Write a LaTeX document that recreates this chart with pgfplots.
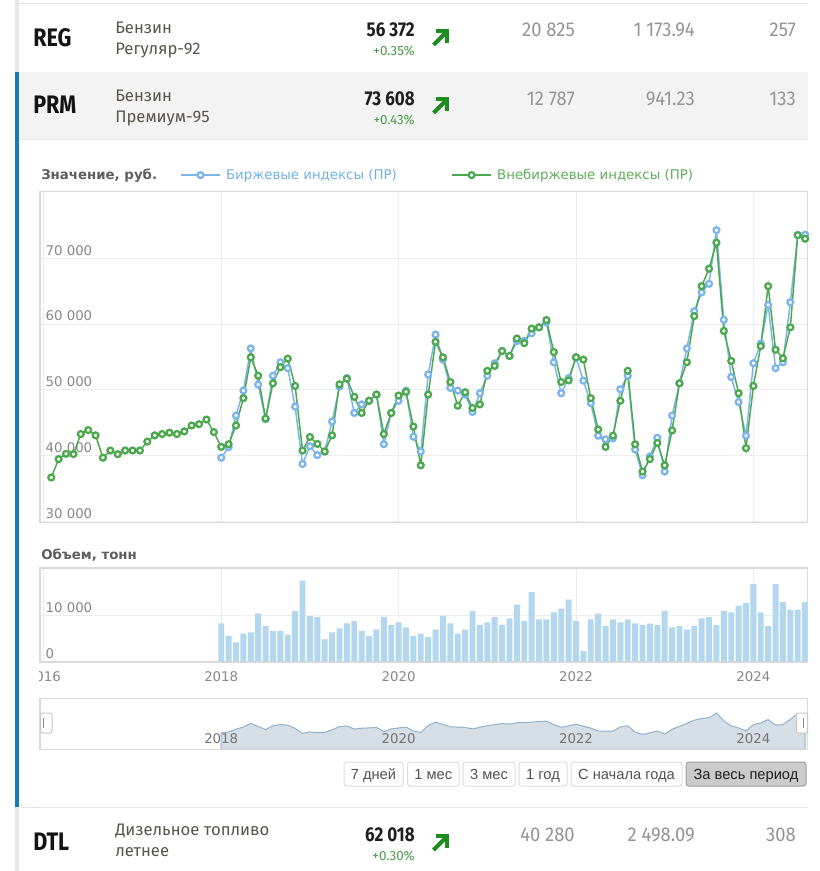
\documentclass[border=0pt]{standalone}
\usepackage{pgfplots}
\pgfplotsset{compat=1.18}
\usepackage{pgfplotstable}
\usepackage{fontspec}
\setmainfont{DejaVu Sans}
\newfontfamily\fira{Fira Sans}
\newfontfamily\firac[FakeStretch=0.85]{Fira Sans}
\newfontfamily\firan[FakeStretch=0.92]{Fira Sans}
\newfontfamily\arial{Liberation Sans}

\definecolor{hcblue}{HTML}{7CB5EC}
\definecolor{hcgreen}{HTML}{4CA84C}
\definecolor{legblue}{HTML}{6FB2E6}
\definecolor{leggreen}{HTML}{5BB058}
\definecolor{barblue}{HTML}{B3D7EF}
\definecolor{gridc}{HTML}{EDEDED}
\definecolor{framec}{HTML}{DADADA}
\definecolor{labc}{HTML}{888888}
\definecolor{titc}{HTML}{5E5E5E}
\definecolor{navfill}{HTML}{D6DEE6}
\definecolor{navline}{HTML}{94B1CB}
\definecolor{rowgrey}{HTML}{F3F3F3}
\definecolor{stripgrey}{HTML}{E8E8E8}
\definecolor{linec}{HTML}{E6E6E6}
\definecolor{accent}{HTML}{1879B8}
\definecolor{upgreen}{HTML}{1E8C1E}
\definecolor{pctgreen}{HTML}{4A9E4A}
\definecolor{namegrey}{HTML}{585550}
\definecolor{numgrey}{HTML}{959595}
\definecolor{btnborder}{HTML}{DDDDDD}
\definecolor{btnsel}{HTML}{CBCBCB}
\definecolor{btnselb}{HTML}{A0A0A0}

% Green series: month index (0 = Jan 2016), value
\pgfplotstableread{
m g
1 36700
2 39500
3 40300
4 40250
5 43300
6 43900
7 43100
8 39700
9 40800
10 40250
11 40800
12 40800
13 40800
14 42150
15 43100
16 43300
17 43500
18 43300
19 43700
20 44600
21 44800
22 45500
23 43600
24 41350
25 41750
26 44600
27 48750
28 54950
29 52150
30 45650
31 51000
32 53450
33 54750
34 50600
35 40800
36 42850
37 41800
38 40650
39 43100
40 50850
41 51700
42 48950
43 46500
44 48350
45 49300
46 43300
47 46500
48 49150
49 49700
50 44450
51 38550
52 49300
53 57300
54 54950
55 51200
56 47600
57 49650
58 47250
59 47800
60 52900
61 53650
62 55900
63 55150
64 57800
65 57100
66 59300
67 59500
68 60600
69 55750
70 51200
71 51450
72 54950
73 54600
74 48750
75 44000
76 41350
77 43050
78 48350
79 52900
80 41750
81 37600
82 39500
83 41950
84 38550
85 43850
86 51000
87 54200
88 61200
89 65750
90 68400
91 72350
92 58950
93 54400
94 49500
95 41150
96 50600
97 56650
98 65750
99 56100
100 54800
101 59500
102 73500
103 72950
}\greendata

% Blue series and volume: month index, price, volume
\pgfplotstableread{
m b v
24 39700 8260
25 41300 5500
26 46100 4130
27 49900 6000
28 56300 6300
29 50800 10430
30 45550 7680
31 52150 6600
32 54200 6600
33 53300 5800
34 47450 10940
35 38750 17540
36 41450 9860
37 40100 9570
38 40650 4780
39 45200 6300
40 50500 7170
41 51800 8260
42 46500 8770
43 47800 6600
44 48350 5500
45 49300 6880
46 41750 9570
47 46500 7900
48 48350 8480
49 49900 7390
50 42900 5500
51 40650 6000
52 52350 5250
53 58400 6880
54 54600 9860
55 50300 8260
56 49900 6000
57 49300 6880
58 46650 10940
59 49500 7900
60 52150 8480
61 54050 9570
62 55900 7900
63 55150 9350
64 57400 12320
65 57450 8770
66 58600 15000
67 59500 9130
68 60250 9130
69 54200 10650
70 49500 11450
71 51800 13400
72 54950 8770
73 51400 2250
74 48000 9130
75 43050 10360
76 42500 7680
77 42650 9130
78 50100 8480
79 52150 9130
80 40950 8260
81 37050 7900
82 39900 8190
83 42750 7900
84 37600 10940
85 46100 7390
86 51000 7680
87 56300 6880
88 61950 7680
89 64800 9350
90 66100 9570
91 74250 7900
92 60650 10940
93 51950 10650
94 48150 12030
95 43050 12610
96 54050 16740
97 57050 10650
98 62900 7680
99 53300 16740
100 54200 12830
101 63300 11230
102 73500 11230
103 73550 12830
}\bluedata

\newcommand\uparr[1]{%
  \draw[upgreen, line width=3pt, line cap=butt] (433.5,#1+7.5) -- (446,#1-5);
  \draw[upgreen, line width=3pt, line join=miter, line cap=butt] (435.5,#1-6.2) -- (447,#1-6.2) -- (447,#1+5.3);
}

\begin{document}
\begin{tikzpicture}[x=0.75pt,y=-0.75pt]
\path[use as bounding box, fill=white] (0,0) rectangle (819,871);
\coordinate (mainSW) at (40,522.3);
\coordinate (volSW) at (40,662);
\coordinate (navSW) at (40,749.3);

% ---------- table rows ----------
\fill[rowgrey] (19,72) rectangle (808,139);
\draw[linec, line width=0.75pt] (19,3.5) -- (808,3.5);
\draw[linec, line width=0.75pt] (19,139.5) -- (808,139.5);
\draw[linec, line width=0.75pt] (19,807.5) -- (808,807.5);
\fill[stripgrey] (15,0) rectangle (19,72);
\fill[accent] (15,72) rectangle (19,807);
\fill[stripgrey] (15,807) rectangle (19,871);

\begin{scope}[every node/.style={inner sep=0pt}]
% REG
\node[anchor=base west, font=\firac\bfseries\fontsize{19}{19}\selectfont, text=black!92] at (33,46.7) {REG};
\node[anchor=base west, font=\fira\fontsize{12.5}{14}\selectfont, text=namegrey] at (115,33.3) {Бензин};
\node[anchor=base west, font=\fira\fontsize{12.5}{14}\selectfont, text=namegrey] at (115,54.3) {Регуляр-92};
\node[anchor=base east, font=\firac\bfseries\fontsize{15}{16}\selectfont, text=black!88] at (415,36.7) {56 372};
\node[anchor=base east, font=\fira\fontsize{10}{12}\selectfont, text=pctgreen] at (415,55.5) {+0.35\%};
\node[anchor=base east, font=\firan\fontsize{15}{16}\selectfont, text=numgrey] at (575,36.7) {20 825};
\node[anchor=base east, font=\firan\fontsize{15}{16}\selectfont, text=numgrey] at (695,36.7) {1 173.94};
\node[anchor=base east, font=\firan\fontsize{15}{16}\selectfont, text=numgrey] at (796,36.7) {257};
% PRM
\node[anchor=base west, font=\firac\bfseries\fontsize{19}{19}\selectfont, text=black!92] at (33,113.3) {PRM};
\node[anchor=base west, font=\fira\fontsize{12.5}{14}\selectfont, text=namegrey] at (115,101.5) {Бензин};
\node[anchor=base west, font=\fira\fontsize{12.5}{14}\selectfont, text=namegrey] at (115,122.5) {Премиум-95};
\node[anchor=base east, font=\firac\bfseries\fontsize{15}{16}\selectfont, text=black!88] at (415,105) {73 608};
\node[anchor=base east, font=\fira\fontsize{10}{12}\selectfont, text=pctgreen] at (415,124) {+0.43\%};
\node[anchor=base east, font=\firan\fontsize{15}{16}\selectfont, text=numgrey] at (575,105) {12 787};
\node[anchor=base east, font=\firan\fontsize{15}{16}\selectfont, text=numgrey] at (695,105) {941.23};
\node[anchor=base east, font=\firan\fontsize{15}{16}\selectfont, text=numgrey] at (796,105) {133};
% DTL
\node[anchor=base west, font=\firac\bfseries\fontsize{19}{19}\selectfont, text=black!92] at (33,850) {DTL};
\node[anchor=base west, font=\fira\fontsize{12.5}{14}\selectfont, text=namegrey] at (115,835.5) {Дизельное топливо};
\node[anchor=base west, font=\fira\fontsize{12.5}{14}\selectfont, text=namegrey] at (115,856.5) {летнее};
\node[anchor=base east, font=\firac\bfseries\fontsize{15}{16}\selectfont, text=black!88] at (415,841.7) {62 018};
\node[anchor=base east, font=\fira\fontsize{10}{12}\selectfont, text=pctgreen] at (415,860) {+0.30\%};
\node[anchor=base east, font=\firan\fontsize{15}{16}\selectfont, text=numgrey] at (575,841) {40 280};
\node[anchor=base east, font=\firan\fontsize{15}{16}\selectfont, text=numgrey] at (695,841) {2 498.09};
\node[anchor=base east, font=\firan\fontsize{15}{16}\selectfont, text=numgrey] at (796,841) {308};
\end{scope}
\uparr{37.5}
\uparr{105.5}
\uparr{842.5}

% ---------- titles ----------
\node[anchor=base west, inner sep=0pt, font=\bfseries\fontsize{10}{12}\selectfont, text=titc] at (41,179.5) {Значение, руб.};
\node[anchor=base west, inner sep=0pt, font=\bfseries\fontsize{10}{12}\selectfont, text=titc] at (41,559.5) {Объем, тонн};

% ---------- main price chart ----------
\begin{axis}[
  at={(mainSW)}, anchor=south west,
  scale only axis, width=575.5pt, height=248pt,
  xmin=-0.52, xmax=103.3, ymin=29900, ymax=80100,
  axis line style={framec, line width=1.2pt},
  xtick={0,24,48,72,96}, xticklabels={},
  ytick={30000,40000,50000,60000,70000},
  yticklabels={30 000,40 000,50 000,60 000,70 000},
  scaled y ticks=false, scaled x ticks=false,
  major tick length=0pt,
  grid=major, major grid style={gridc, line width=0.75pt},
  tick label style={font=\fontsize{10}{12}\selectfont, text=labc},
  yticklabel style={anchor=south west, inner sep=1pt, xshift=3pt, yshift=1pt},
  clip=false,
  legend columns=2,
  legend cell align=left,
  legend image code/.code={\draw[#1, mark repeat=2, mark phase=2] plot coordinates {(0pt,0pt) (14.6pt,0pt) (29.2pt,0pt)};},
  legend style={at={(axis description cs:0.1825,1.05)}, anchor=west, draw=none, fill=none, inner sep=0pt,
     font=\fontsize{10}{12}\selectfont,
     /tikz/every odd column/.append style={column sep=2pt},
     /tikz/every even column/.append style={column sep=39pt}},
]
\addplot[hcblue, line width=1.1pt, mark=*, mark size=2.2pt, mark options={fill=white, draw=hcblue, line width=1.7pt, solid}]
  table[x=m, y=b]{\bluedata};
\addlegendentry{\textcolor{legblue}{Биржевые индексы (ПР)}}
\addplot[hcgreen, line width=1.1pt, mark=*, mark size=2.2pt, mark options={fill=white, draw=hcgreen, line width=1.7pt, solid}]
  table[x=m, y=g]{\greendata};
\addlegendentry{\textcolor{leggreen}{Внебиржевые индексы (ПР)}}
\end{axis}

% ---------- volume chart ----------
\begin{axis}[
  at={(volSW)}, anchor=south west,
  scale only axis, width=575.5pt, height=70.3pt,
  xmin=-0.52, xmax=103.3, ymin=-150, ymax=20200,
  axis line style={framec, line width=1.2pt},
  xtick={0,24,48,72,96}, xticklabels={2016,2018,2020,2022,2024},
  ytick={0,10000}, yticklabels={0,10 000},
  scaled y ticks=false, scaled x ticks=false,
  major tick length=0pt,
  grid=major, major grid style={gridc, line width=0.75pt},
  tick label style={font=\fontsize{10}{12}\selectfont, text=labc},
  yticklabel style={anchor=south west, inner sep=1pt, xshift=3pt, yshift=1pt},
  xticklabel style={yshift=-4pt},
  ybar, bar width=0.8,
]
\addplot[fill=barblue, draw=none] table[x=m, y=v]{\bluedata};
\end{axis}
\fill[white] (19.5,664) rectangle (39.3,694);

% ---------- navigator ----------
\begin{axis}[
  at={(navSW)}, anchor=south west,
  scale only axis, width=575.5pt, height=38.2pt,
  xmin=-0.52, xmax=103.3, ymin=11000, ymax=100000,
  axis line style={framec, line width=1.2pt},
  xtick={24,48,72,96}, xticklabels={2018,2020,2022,2024},
  ytick=\empty, major tick length=0pt,
  scaled y ticks=false, scaled x ticks=false,
  tick label style={font=\fontsize{10}{12}\selectfont, text=black!55},
  xticklabel style={anchor=south, yshift=1pt},
  axis on top,
]
\addplot[draw=navline, fill=navfill, line width=0.75pt] table[x=m, y=b]{\bluedata} \closedcycle;
\end{axis}
% navigator handles
\draw[fill=white, draw=black!22, line width=0.75pt, rounded corners=1.5pt] (40.5,713) rectangle (52,733);
\draw[black!45, line width=0.75pt] (43.5,718) -- (43.5,728);
\draw[fill=white, draw=black!22, line width=0.75pt, rounded corners=1.5pt] (796.5,713) rectangle (807.5,733);
\draw[black!45, line width=0.75pt] (803.5,718) -- (803.5,728);

% ---------- range buttons ----------
\begin{scope}[every node/.style={inner sep=0pt}]
\draw[btnborder, fill=white, rounded corners=2pt, line width=0.75pt] (344,762) rectangle (403,786);
\node[anchor=base, font=\arial\fontsize{11}{13}\selectfont, text=black!68] at (373.5,779) {7 дней};
\draw[btnborder, fill=white, rounded corners=2pt, line width=0.75pt] (407.5,762) rectangle (459,786);
\node[anchor=base, font=\arial\fontsize{11}{13}\selectfont, text=black!68] at (433.2,779) {1 мес};
\draw[btnborder, fill=white, rounded corners=2pt, line width=0.75pt] (463,762) rectangle (515,786);
\node[anchor=base, font=\arial\fontsize{11}{13}\selectfont, text=black!68] at (489,779) {3 мес};
\draw[btnborder, fill=white, rounded corners=2pt, line width=0.75pt] (519,762) rectangle (567,786);
\node[anchor=base, font=\arial\fontsize{11}{13}\selectfont, text=black!68] at (543,779) {1 год};
\draw[btnborder, fill=white, rounded corners=2pt, line width=0.75pt] (571,762) rectangle (682,786);
\node[anchor=base, font=\arial\fontsize{11}{13}\selectfont, text=black!68] at (626.5,779) {С начала года};
\draw[btnselb, fill=btnsel, rounded corners=2pt, line width=0.75pt] (686,762) rectangle (806,786);
\node[anchor=base, font=\arial\fontsize{11}{13}\selectfont, text=black!88] at (746,779) {За весь период};
\end{scope}
\end{tikzpicture}
\end{document}
